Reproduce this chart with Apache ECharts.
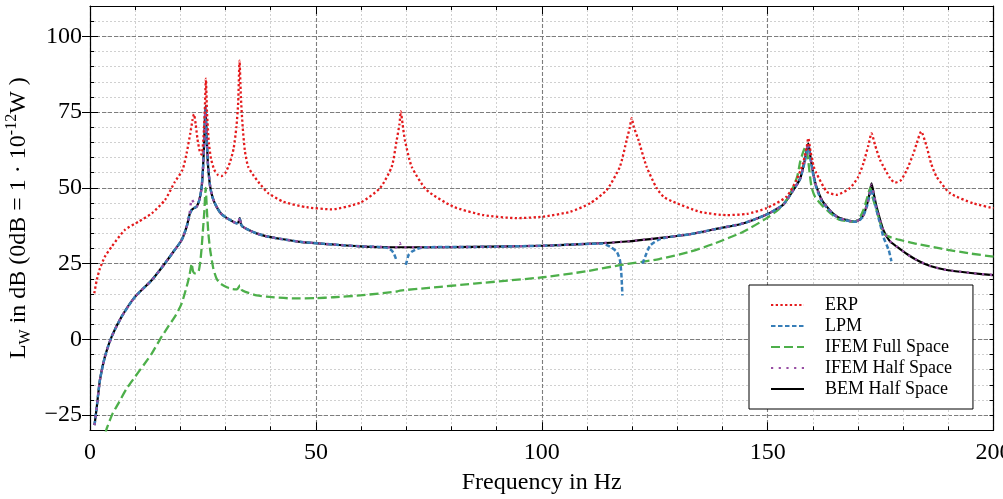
<!DOCTYPE html>
<html>
<head>
<meta charset="utf-8">
<script src="https://cdn.jsdelivr.net/npm/echarts@6/dist/echarts.min.js"></script>
<style>
  html, body { margin: 0; padding: 0; background: #fff; }
  #chart { width: 1003px; height: 499px; }
</style>
</head>
<body>
<div id="chart"></div>
<script>
const FONT = '"Liberation Serif", "Times New Roman", serif';

// Sound power level L_W (dB) over frequency (Hz), one pair of arrays per method
const erpFreq = [0.95, 1.5, 2.2, 3.3, 4.8, 7.7, 10.7, 13.7, 16.6, 18.8, 20.5, 21.4, 22.2, 22.7, 23.0, 23.4, 23.8, 24.3, 24.7, 25.1, 25.4, 25.65, 25.9, 26.3, 26.8, 27.5, 28.3, 29.1, 30.0, 31.0, 31.8, 32.4, 32.8, 33.1, 33.4, 33.8, 34.3, 35.0, 36.0, 37.5, 39.5, 42.8, 48.0, 53.5, 59.8, 64.2, 66.8, 67.9, 68.5, 68.8, 69.2, 69.7, 71.2, 74.5, 80.4, 87.1, 94.4, 100.3, 106.3, 110.7, 114.4, 117.3, 118.8, 119.5, 119.9, 120.4, 121.4, 123.2, 125.4, 127.0, 129.1, 135.0, 140.9, 145.4, 149.8, 154.2, 156.4, 157.8, 158.6, 159.0, 159.5, 160.2, 160.8, 163.1, 165.3, 168.2, 170.0, 171.2, 172.3, 173.0, 173.8, 174.9, 177.1, 178.2, 179.5, 180.8, 182.2, 183.0, 184.0, 185.2, 186.2, 187.4, 190.4, 195.5, 200.0];
const erpLevel = [15.2, 19.6, 23.4, 27.3, 30.6, 36.1, 38.8, 41.6, 46.0, 52.0, 56.0, 61.5, 68.0, 72.5, 74.3, 71.0, 66.0, 62.0, 61.0, 66.0, 75.0, 86.0, 75.0, 65.0, 59.5, 56.0, 54.3, 53.9, 55.0, 58.5, 63.0, 70.0, 78.0, 92.0, 80.0, 70.0, 62.0, 57.0, 54.5, 51.5, 48.2, 45.4, 43.6, 42.9, 45.1, 49.9, 57.0, 65.8, 71.0, 75.2, 71.0, 65.8, 57.0, 49.3, 43.8, 41.0, 40.0, 40.5, 42.1, 44.9, 49.3, 57.0, 65.8, 70.0, 73.0, 70.0, 65.8, 57.0, 50.0, 47.0, 45.4, 42.1, 41.0, 41.4, 43.3, 47.1, 52.6, 58.0, 63.0, 66.4, 62.0, 57.0, 54.8, 48.7, 47.7, 49.9, 53.5, 58.1, 64.0, 68.0, 64.0, 59.2, 53.2, 51.7, 52.5, 55.9, 61.0, 64.7, 68.6, 63.6, 58.0, 53.7, 48.2, 44.9, 43.3];

// null marks where the LPM curve leaves the plotted range at an anti-resonance
const lpmFreq = [1.0, 1.5, 2.2, 3.3, 4.8, 7.0, 10.0, 13.7, 16.6, 18.5, 20.3, 21.4, 22.0, 22.5, 23.0, 23.6, 24.2, 24.7, 25.0, 25.3, 25.55, 25.8, 26.1, 26.6, 27.2, 28.0, 29.0, 30.3, 31.5, 32.5, 32.9, 33.15, 33.4, 33.7, 35.4, 37.0, 39.1, 42.0, 46.5, 53.9, 59.8, 64.0, 66.0, 66.8, 67.3, 67.8, 68.0, 69.9, 70.1, 70.5, 71.2, 72.5, 74.5, 85.0, 100.2, 110.0, 113.5, 115.1, 116.6, 117.3, 117.6, 117.75, 117.85, 118.0, 122.3, 122.9, 124.0, 126.2, 130.0, 132.8, 139.5, 143.9, 146.8, 149.5, 151.3, 153.5, 155.7, 157.2, 158.2, 159.0, 159.6, 160.2, 160.8, 162.0, 163.1, 164.5, 166.0, 169.3, 170.5, 171.2, 172.0, 172.6, 173.0, 173.5, 174.1, 175.0, 175.6, 176.8, 177.4];
const lpmLevel = [-28.3, -22.3, -13.4, -5.7, 0.9, 7.5, 14.1, 19.6, 25.1, 29.0, 32.8, 37.2, 41.0, 42.7, 43.3, 43.8, 46.0, 50.0, 56.0, 66.0, 76.0, 68.0, 58.0, 50.4, 46.5, 43.8, 41.5, 40.0, 39.0, 38.3, 38.8, 39.8, 38.2, 37.3, 35.9, 34.9, 34.0, 33.2, 32.2, 31.3, 30.7, 30.5, 30.1, 29.3, 28.2, 26.3, null, 24.6, 25.6, 27.8, 28.9, 29.9, 30.4, 30.5, 30.9, 31.5, 31.6, 30.6, 28.9, 26.2, 22.0, 18.0, 14.5, null, 25.0, 27.3, 31.0, 33.1, 34.2, 34.7, 36.7, 38.0, 39.4, 41.0, 42.4, 44.5, 49.3, 53.0, 58.5, 64.0, 58.5, 53.5, 50.0, 45.5, 43.5, 41.3, 39.8, 38.8, 39.5, 40.8, 44.0, 47.5, 49.5, 46.5, 42.7, 37.5, 33.9, 29.5, 25.8];

const ifemFullFreq = [3.4, 3.7, 5.0, 6.3, 8.0, 10.0, 12.0, 13.7, 15.5, 17.3, 19.0, 20.3, 21.4, 22.0, 22.3, 22.5, 22.8, 23.2, 24.0, 24.4, 24.7, 25.0, 25.3, 25.6, 25.9, 26.2, 26.6, 27.3, 28.0, 28.8, 30.3, 31.5, 32.5, 33.0, 33.2, 33.6, 34.4, 36.9, 39.1, 45.0, 50.0, 53.9, 59.8, 68.0, 68.6, 75.0, 85.0, 100.3, 110.0, 117.3, 126.0, 132.8, 138.0, 144.6, 149.8, 152.5, 154.2, 155.7, 156.6, 157.2, 157.8, 158.3, 158.8, 159.7, 160.5, 162.3, 164.0, 166.0, 169.3, 170.5, 171.2, 172.0, 172.7, 173.3, 174.1, 175.0, 175.6, 177.0, 179.3, 183.0, 188.2, 195.0, 200.0];
const ifemFullLevel = [-31.0, -29.4, -24.5, -21.1, -16.5, -12.3, -8.2, -4.6, 0.0, 4.2, 8.0, 11.9, 17.4, 21.0, 23.5, 25.0, 22.5, 21.8, 22.3, 25.5, 30.0, 36.0, 42.0, 50.0, 42.0, 35.0, 29.5, 23.4, 20.1, 18.5, 17.2, 16.6, 16.5, 17.4, 17.8, 16.3, 15.7, 14.5, 14.1, 13.5, 13.6, 13.9, 14.5, 15.8, 16.1, 17.0, 18.4, 20.5, 22.5, 24.5, 26.5, 28.9, 31.5, 35.5, 40.0, 43.0, 46.0, 50.4, 54.0, 58.6, 61.5, 63.3, 61.0, 50.4, 47.0, 43.8, 41.5, 39.4, 38.8, 40.5, 42.7, 46.5, 49.9, 46.5, 42.7, 38.0, 35.0, 33.8, 32.8, 31.5, 30.0, 28.3, 27.3];

const ifemHalfFreq = [1.0, 1.5, 2.2, 3.3, 4.8, 7.0, 10.0, 13.7, 16.6, 18.5, 20.3, 21.4, 22.0, 22.5, 23.0, 23.6, 24.2, 24.7, 25.0, 25.3, 25.55, 25.8, 26.1, 26.6, 27.2, 28.0, 29.0, 30.3, 31.5, 32.5, 32.9, 33.15, 33.4, 33.7, 35.4, 37.0, 39.1, 42.0, 46.5, 53.9, 59.8, 67.0, 68.3, 68.6, 68.9, 75.3, 85.0, 100.2, 110.0, 118.8, 126.9, 132.8, 139.5, 143.9, 146.8, 149.5, 151.3, 153.5, 155.7, 157.2, 158.2, 159.0, 159.6, 160.2, 160.8, 162.0, 163.1, 164.5, 166.0, 169.3, 170.5, 171.2, 172.0, 172.6, 173.0, 173.5, 174.1, 175.6, 177.0, 178.6, 181.0, 183.0, 186.0, 189.6, 195.0, 200.0];
const ifemHalfLevel = [-28.3, -22.3, -13.4, -5.7, 0.9, 7.5, 14.1, 19.6, 25.1, 29.0, 32.8, 37.2, 41.0, 46.3, 45.0, 43.8, 46.0, 50.0, 56.0, 66.0, 76.5, 68.0, 58.0, 50.4, 46.5, 43.8, 41.5, 40.0, 39.0, 38.3, 38.8, 40.4, 38.2, 37.3, 35.9, 34.9, 34.0, 33.2, 32.2, 31.3, 30.7, 30.4, 30.4, 31.8, 30.4, 30.4, 30.5, 30.9, 31.5, 32.3, 33.6, 34.7, 36.7, 38.0, 39.4, 41.0, 42.4, 44.5, 49.3, 53.0, 59.0, 64.7, 59.0, 54.0, 50.4, 46.0, 43.8, 41.5, 40.0, 38.8, 39.7, 41.0, 44.5, 48.5, 51.0, 48.0, 43.8, 36.1, 32.5, 30.6, 28.0, 26.2, 24.2, 22.9, 21.9, 21.2];

const bemFreq = [1.0, 1.5, 2.2, 3.3, 4.8, 7.0, 10.0, 13.7, 16.6, 18.5, 20.3, 21.4, 22.0, 22.5, 23.0, 23.6, 24.2, 24.7, 25.0, 25.3, 25.55, 25.8, 26.1, 26.6, 27.2, 28.0, 29.0, 30.3, 31.5, 32.5, 32.9, 33.15, 33.4, 33.7, 35.4, 37.0, 39.1, 42.0, 46.5, 53.9, 59.8, 67.0, 75.3, 85.0, 100.2, 110.0, 118.8, 126.9, 132.8, 139.5, 143.9, 146.8, 149.5, 151.3, 153.5, 155.7, 157.2, 158.2, 159.0, 159.6, 160.2, 160.8, 162.0, 163.1, 164.5, 166.0, 169.3, 170.5, 171.2, 172.0, 172.6, 173.0, 173.5, 174.1, 175.6, 177.0, 178.6, 181.0, 183.0, 186.0, 189.6, 195.0, 200.0];
const bemLevel = [-28.3, -22.3, -13.4, -5.7, 0.9, 7.5, 14.1, 19.6, 25.1, 29.0, 32.8, 37.2, 41.0, 42.7, 43.3, 43.8, 46.0, 50.0, 56.0, 66.0, 77.0, 68.0, 58.0, 50.4, 46.5, 43.8, 41.5, 40.0, 39.0, 38.3, 38.8, 40.0, 38.2, 37.3, 35.9, 34.9, 34.0, 33.2, 32.2, 31.3, 30.7, 30.4, 30.4, 30.5, 30.9, 31.5, 32.3, 33.6, 34.7, 36.7, 38.0, 39.4, 41.0, 42.4, 44.5, 49.3, 53.0, 59.0, 64.7, 59.0, 54.0, 50.4, 46.0, 43.8, 41.5, 40.0, 38.8, 39.7, 41.0, 44.5, 48.5, 51.5, 48.0, 43.8, 36.1, 32.5, 30.6, 28.0, 26.2, 24.2, 22.9, 21.9, 21.2];

const seriesNames = ['ERP', 'LPM', 'IFEM Full Space', 'IFEM Half Space', 'BEM Half Space'];
const yMajorTicks = [-25, 0, 25, 50, 75, 100];

const pairs = (fs, ls) => fs.map((f, i) => [f, ls[i]]);

const majorGrid = { color: '#7d7d7d', width: 1.1, type: [4, 2] };
const minorGrid = { color: '#d0d0d0', width: 1, type: [2, 2] };
const tickStyle = { color: '#000', width: 1 };
const frameLine = { show: true, onZero: false, lineStyle: { color: '#000', width: 1.2 } };
const minusSign = v => String(v).replace('-', '\u2212');

function curve(name, data, color, width, dash, z) {
  return {
    name, type: 'line', data, xAxisIndex: 0, yAxisIndex: 0,
    showSymbol: false, symbol: 'none', connectNulls: false, clip: true,
    smooth: 0.2,
    lineStyle: { color, width, type: dash, cap: 'butt', join: 'round' },
    itemStyle: { color },
    emphasis: { disabled: true },
    z
  };
}

const chart = echarts.init(document.getElementById('chart'), null, { renderer: 'canvas' });

chart.setOption({
  animation: false,
  backgroundColor: '#fff',
  textStyle: { fontFamily: FONT },
  grid: { left: 90, right: 9.5, top: 6, bottom: 68.7, containLabel: false, outerBoundsMode: 'none' },
  legend: {
    data: seriesNames,
    orient: 'vertical', left: 749, top: 285,
    padding: [11, 21, 11, 21],
    itemWidth: 33, itemHeight: 14, itemGap: 3,
    itemStyle: { opacity: 0 },
    borderColor: '#000', borderWidth: 1, borderRadius: 0,
    backgroundColor: '#fff',
    selectedMode: false,
    textStyle: { fontFamily: FONT, fontSize: 18, color: '#000', padding: [0, 0, 0, 16] },
    z: 10
  },
  xAxis: [
    {
      type: 'value', position: 'bottom', min: 0, max: 200, interval: 50,
      axisLine: frameLine,
      axisTick: { show: true, inside: true, length: 8, lineStyle: tickStyle },
      minorTick: { show: true, splitNumber: 5, length: 4, lineStyle: tickStyle },
      axisLabel: { color: '#000', fontSize: 24, fontFamily: FONT, margin: 10 },
      splitLine: { show: true, lineStyle: majorGrid },
      minorSplitLine: { show: true, lineStyle: minorGrid },
      name: 'Frequency in Hz', nameLocation: 'middle', nameGap: 40,
      nameTextStyle: { color: '#000', fontSize: 24, fontFamily: FONT }
    },
    {
      type: 'value', position: 'top', min: 0, max: 200, interval: 50,
      axisLine: frameLine,
      axisTick: { show: true, inside: true, length: 8, lineStyle: tickStyle },
      minorTick: { show: true, splitNumber: 5, length: 4, lineStyle: tickStyle },
      axisLabel: { show: false },
      splitLine: { show: false }
    }
  ],
  yAxis: [
    {
      // data axis: 5 dB steps carry the fine grid and the short ticks
      type: 'value', position: 'left', min: -30, max: 110, interval: 5,
      axisLine: frameLine,
      axisTick: { show: true, inside: true, length: 4, lineStyle: tickStyle },
      axisLabel: { show: false },
      splitLine: { show: true, lineStyle: minorGrid }
    },
    {
      // labelled 25 dB steps with the coarse grid
      type: 'value', position: 'left', min: -30, max: 110,
      axisLine: { show: false },
      axisTick: { show: true, inside: true, length: 8, lineStyle: tickStyle, customValues: yMajorTicks },
      axisLabel: { color: '#000', fontSize: 24, fontFamily: FONT, margin: 8, customValues: yMajorTicks, formatter: minusSign },
      splitLine: { show: true, lineStyle: majorGrid },
      name: '{n|L}{s|W}{n| in dB (0dB = 1 · 10}{p|-12}{n|W )}',
      nameLocation: 'middle', nameRotate: 90, nameGap: 52,
      nameTextStyle: {
        color: '#000', fontFamily: FONT, fontSize: 24,
        rich: {
          n: { fontFamily: FONT, fontSize: 24, color: '#000', lineHeight: 30 },
          s: { fontFamily: FONT, fontSize: 16, color: '#000', lineHeight: 16, verticalAlign: 'bottom' },
          p: { fontFamily: FONT, fontSize: 16, color: '#000', lineHeight: 16, verticalAlign: 'top' }
        }
      }
    },
    {
      type: 'value', position: 'right', min: -30, max: 110, interval: 5,
      axisLine: frameLine,
      axisTick: { show: true, inside: true, length: 4, lineStyle: tickStyle },
      axisLabel: { show: false },
      splitLine: { show: false }
    },
    {
      type: 'value', position: 'right', min: -30, max: 110,
      axisLine: { show: false },
      axisTick: { show: true, inside: true, length: 8, lineStyle: tickStyle, customValues: yMajorTicks },
      axisLabel: { show: false },
      splitLine: { show: false }
    }
  ],
  series: [
    curve(seriesNames[0], pairs(erpFreq, erpLevel), '#e41a1c', 2.3, [2.3, 2.4], 7),
    curve(seriesNames[1], pairs(lpmFreq, lpmLevel), '#377eb8', 2.5, [4.5, 2.5], 5),
    curve(seriesNames[2], pairs(ifemFullFreq, ifemFullLevel), '#4daf4a', 2.3, [9, 4], 4),
    curve(seriesNames[3], pairs(ifemHalfFreq, ifemHalfLevel), '#984ea3', 2.4, [2.2, 5.5], 6),
    curve(seriesNames[4], pairs(bemFreq, bemLevel), '#000000', 2.2, 'solid', 3)
  ]
});
</script>
</body>
</html>
